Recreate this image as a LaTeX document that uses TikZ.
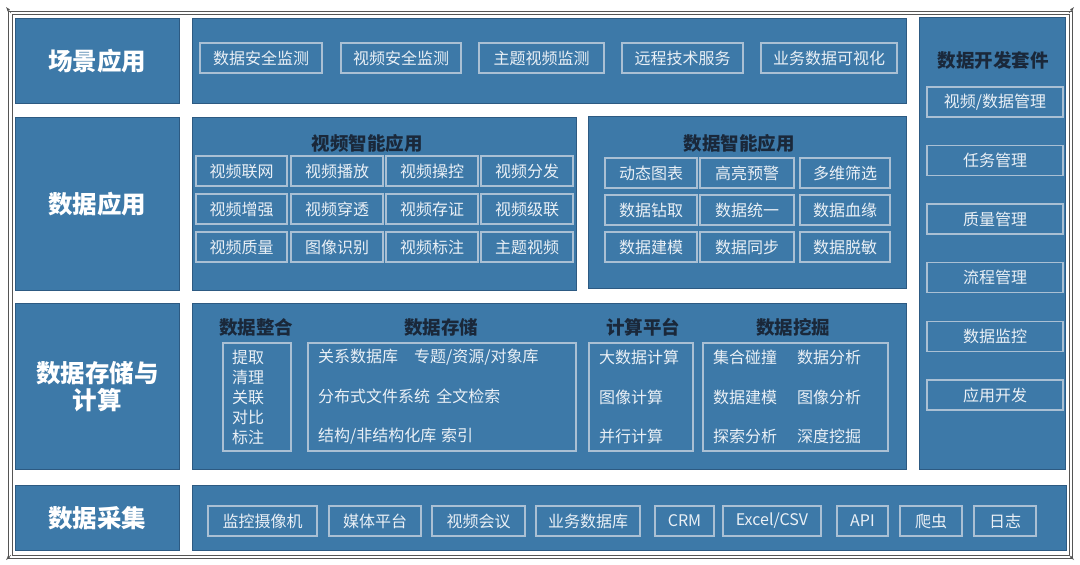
\documentclass[tikz,border=0pt]{standalone}
\usepackage{fontspec}
\setmainfont{Noto Sans CJK SC}
\usepackage{tikz}
\definecolor{panelblue}{RGB}{61,121,168}
\definecolor{paneledge}{RGB}{45,90,130}
\definecolor{itemedge}{RGB}{170,192,212}
\definecolor{itemtext}{RGB}{234,240,246}
\definecolor{headtext}{RGB}{26,40,58}
\definecolor{framegray}{RGB}{85,85,85}

\begin{document}
\begin{tikzpicture}[x=1pt,y=-1pt,>=latex,
  panel/.style={fill=panelblue,draw=paneledge,line width=0.8pt,anchor=north west,inner sep=0pt},
  layer/.style={text=white,align=center,font=\fontsize{24.5}{27}\selectfont\bfseries},
  head/.style={text=headtext,font=\fontsize{18.5}{22}\selectfont\bfseries},
  item/.style={draw=itemedge,line width=1.1pt,text=itemtext,inner sep=0pt,minimum height=30pt,font=\fontsize{16}{19}\selectfont}]
  \useasboundingbox (0,0) rectangle (1080,565);
  \draw[framegray,line width=0.7pt] (8,11) rectangle (1072,558);
  \draw[framegray,line width=0.7pt] (12,14) rectangle (1069,555);
  \draw[->,framegray,line width=0.5pt] (11,13) -- (6,7);
  \draw[->,framegray,line width=0.5pt] (1069,13) -- (1074,7);
  \draw[->,framegray,line width=0.5pt] (11,555) -- (6,560);
  \draw[->,framegray,line width=0.5pt] (1069,555) -- (1074,560);

  \node[panel,layer,minimum width=164pt,minimum height=85pt] (scn) at (15,18) {场景应用};
  \node[panel,layer,minimum width=164pt,minimum height=173pt] (app) at (15,117) {数据应用};
  \node[panel,layer,minimum width=164pt,minimum height=166pt] (sto) at (15,303) {数据存储与\\计算};
  \node[panel,layer,minimum width=164pt,minimum height=65pt] (col) at (15,485) {数据采集};

  \node[panel,minimum width=714pt,minimum height=85pt] (scnP) at (192,18) {};
  \node[panel,minimum width=384pt,minimum height=173pt] (vidP) at (192,117) {};
  \node[panel,minimum width=318pt,minimum height=172pt] (datP) at (588,116) {};
  \node[panel,minimum width=714pt,minimum height=166pt] (stoP) at (192,303) {};
  \node[panel,minimum width=874pt,minimum height=65pt] (colP) at (192,485) {};
  \node[panel,minimum width=146pt,minimum height=452pt] (devP) at (919,17) {};

  \node[item,minimum width=122pt] (sc1) at (261,58) {数据安全监测};
  \node[item,minimum width=120pt] (sc2) at (401,58) {视频安全监测};
  \node[item,minimum width=125pt] (sc3) at (541.5,58) {主题视频监测};
  \node[item,minimum width=121pt] (sc4) at (682.5,58) {远程技术服务};
  \node[item,minimum width=136pt] (sc5) at (829,58) {业务数据可视化};

  \node[head] (vidT) at (367,143) {视频智能应用};
  \node[item,minimum width=91pt] (v11) at (241.5,171) {视频联网};
  \node[item,minimum width=92pt] (v12) at (337,171) {视频播放};
  \node[item,minimum width=92pt] (v13) at (432,171) {视频操控};
  \node[item,minimum width=92pt] (v14) at (527,171) {视频分发};
  \node[item,minimum width=91pt] (v21) at (241.5,209) {视频增强};
  \node[item,minimum width=92pt] (v22) at (337,209) {视频穿透};
  \node[item,minimum width=92pt] (v23) at (432,209) {视频存证};
  \node[item,minimum width=92pt] (v24) at (527,209) {视频级联};
  \node[item,minimum width=91pt] (v31) at (241.5,247) {视频质量};
  \node[item,minimum width=92pt] (v32) at (337,247) {图像识别};
  \node[item,minimum width=92pt] (v33) at (432,247) {视频标注};
  \node[item,minimum width=92pt] (v34) at (527,247) {主题视频};

  \node[head] (datT) at (739,143) {数据智能应用};
  \node[item,minimum width=92pt] (d11) at (651,173) {动态图表};
  \node[item,minimum width=94pt] (d12) at (747,173) {高亮预警};
  \node[item,minimum width=90pt] (d13) at (845,173) {多维筛选};
  \node[item,minimum width=92pt] (d21) at (651,210) {数据钻取};
  \node[item,minimum width=94pt] (d22) at (747,210) {数据统一};
  \node[item,minimum width=90pt] (d23) at (845,210) {数据血缘};
  \node[item,minimum width=92pt] (d31) at (651,247) {数据建模};
  \node[item,minimum width=94pt] (d32) at (747,247) {数据同步};
  \node[item,minimum width=90pt] (d33) at (845,247) {数据脱敏};

  \node[head] (intT) at (256,327) {数据整合};
  \node[head] (strT) at (441,327) {数据存储};
  \node[head] (cmpT) at (643,327) {计算平台};
  \node[head] (minT) at (793,327) {数据挖掘};
  \node[item,minimum width=68pt,minimum height=108pt,text width=50pt,align=left,font=\fontsize{16}{20}\selectfont] (int) at (257,397) {提取\\清理\\关联\\对比\\标注};
  \node[item,minimum width=268pt,minimum height=108pt,text width=248pt,align=left,font=\fontsize{16}{39.5}\selectfont] (str) at (442,397) {关系数据库\hspace{1em}专题/资源/对象库\\分布式文件系统\hspace{0.4em}全文检索\\结构/非结构化库\hspace{0.3em}索引};
  \node[item,minimum width=104pt,minimum height=108pt,text width=84pt,align=left,font=\fontsize{16}{39.5}\selectfont] (cmp) at (641,397) {大数据计算\\图像计算\\并行计算};
  \node[item,minimum width=185pt,minimum height=108pt,text width=165pt,align=left,font=\fontsize{16}{39.5}\selectfont] (min) at (795.5,397) {集合碰撞\hspace{1.25em}数据分析\\数据建模\hspace{1.25em}图像分析\\探索分析\hspace{1.25em}深度挖掘};

  \node[item,minimum width=109pt] (c1) at (262.5,521) {监控摄像机};
  \node[item,minimum width=92pt] (c2) at (375,521) {媒体平台};
  \node[item,minimum width=93pt] (c3) at (478.5,521) {视频会议};
  \node[item,minimum width=104pt] (c4) at (588,521) {业务数据库};
  \node[item,minimum width=59pt] (c5) at (684.5,521) {CRM};
  \node[item,minimum width=98pt] (c6) at (772,521) {Excel/CSV};
  \node[item,minimum width=51pt] (c7) at (862.5,521) {API};
  \node[item,minimum width=62pt] (c8) at (931,521) {爬虫};
  \node[item,minimum width=62pt] (c9) at (1005,521) {日志};

  \node[head] (devT) at (993,60) {数据开发套件};
  \node[item,minimum width=136pt] (dv1) at (995,102) {视频/数据管理};
  \node[item,minimum width=136pt] (dv2) at (995,160.5) {任务管理};
  \node[item,minimum width=136pt] (dv3) at (995,219) {质量管理};
  \node[item,minimum width=136pt] (dv4) at (995,277.5) {流程管理};
  \node[item,minimum width=136pt] (dv5) at (995,336.5) {数据监控};
  \node[item,minimum width=136pt] (dv6) at (995,395) {应用开发};
\end{tikzpicture}
\end{document}
